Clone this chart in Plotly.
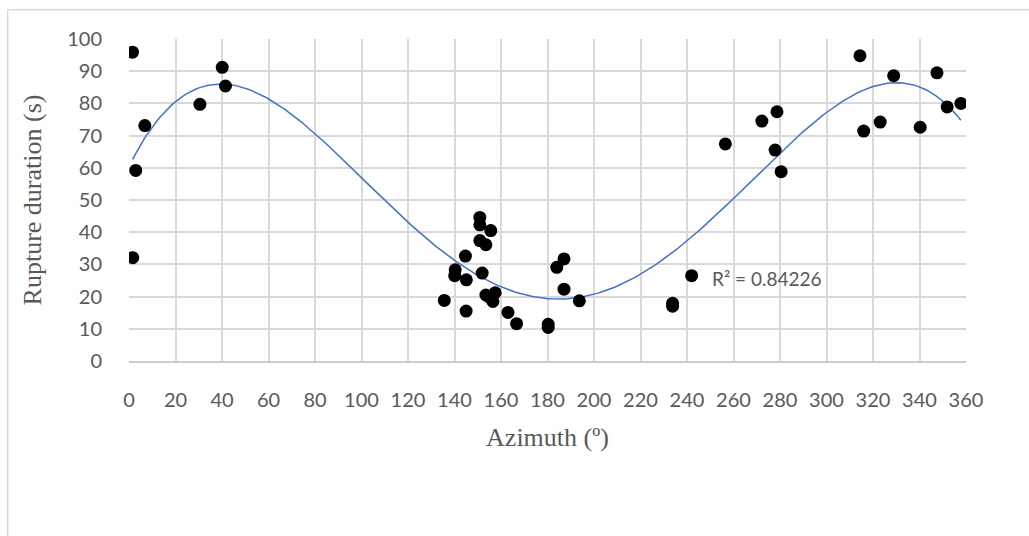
import numpy as np
import plotly.graph_objects as go

azimuth = [1.5, 1.6, 2.9, 6.8, 30.5, 40.1, 41.5,
           135.6, 140.1, 140.3, 144.7, 145.0, 145.1, 150.9, 150.9, 150.9, 151.9,
           153.5, 153.5, 155.0, 155.6, 156.5, 157.5, 163.0, 166.7,
           180.3, 180.3, 184.0, 187.1, 187.1, 193.7,
           233.8, 233.8, 242.0, 256.5, 272.2, 277.9, 278.7, 280.5,
           314.4, 316.0, 323.1, 328.9, 340.3, 347.5, 351.9, 357.8]
duration = [95.9, 32.1, 59.2, 73.1, 79.7, 91.2, 85.4,
            18.8, 26.5, 28.3, 32.6, 15.5, 25.2, 44.6, 42.3, 37.4, 27.3,
            36.1, 20.5, 19.8, 40.5, 18.5, 21.2, 15.1, 11.6,
            11.4, 10.4, 29.1, 31.7, 22.3, 18.7,
            17.9, 17.0, 26.5, 67.4, 74.5, 65.5, 77.4, 58.8,
            94.8, 71.4, 74.2, 88.6, 72.6, 89.5, 78.9, 80.0]
x_ticks = list(range(0, 361, 20))
y_ticks = list(range(0, 101, 10))
r2_label = "R² = 0.84226"

# polynomial trendline (order 4) fitted to the data
xa = np.array(azimuth)
ya = np.array(duration)
poly = np.polynomial.Polynomial.fit(xa, ya, 4)
xs = np.linspace(xa.min(), xa.max(), 300)

fig = go.Figure()
fig.add_trace(go.Scatter(x=xs, y=poly(xs), mode="lines",
                         line=dict(color="#4472C4", width=1.5), hoverinfo="skip"))
fig.add_trace(go.Scatter(x=azimuth, y=duration, mode="markers",
                         marker=dict(color="black", size=13)))
fig.add_annotation(x=250, y=25.5, text=r2_label, showarrow=False,
                   xanchor="left", yanchor="middle",
                   font=dict(family="Lato", size=19, color="#595959"))

# outer chart border
fig.add_shape(type="rect", xref="paper", yref="paper",
              x0=(8 - 129.3) / 836.7, x1=1.2, y0=-0.6, y1=(361 - 10) / 321.7,
              line=dict(color="#d9d9d9", width=1.5), layer="below")

fig.update_layout(
    width=1029, height=536,
    margin=dict(l=129, r=63, t=39, b=175),
    plot_bgcolor="white", paper_bgcolor="white",
    showlegend=False,
    xaxis=dict(range=[0, 360], tickvals=x_ticks, showgrid=True, gridcolor="#d9d9d9",
               gridwidth=1.5, zeroline=False, showline=True, linecolor="#cccccc",
               linewidth=2, ticks="outside", ticklen=20, tickcolor="rgba(0,0,0,0)",
               tickfont=dict(family="Lato", size=20, color="#595959"),
               title=dict(text="Azimuth (º)",
                          font=dict(family="Liberation Serif", size=26, color="#595959"),
                          standoff=18)),
    yaxis=dict(range=[0, 100], tickvals=y_ticks, showgrid=True, gridcolor="#d9d9d9",
               gridwidth=1.5, zeroline=False, showline=False,
               ticks="outside", ticklen=22, tickcolor="rgba(0,0,0,0)",
               tickfont=dict(family="Lato", size=20, color="#595959"),
               title=dict(text="Rupture duration (s)",
                          font=dict(family="Liberation Serif", size=26, color="#595959"),
                          standoff=18)),
)
fig.write_html("out.html")
